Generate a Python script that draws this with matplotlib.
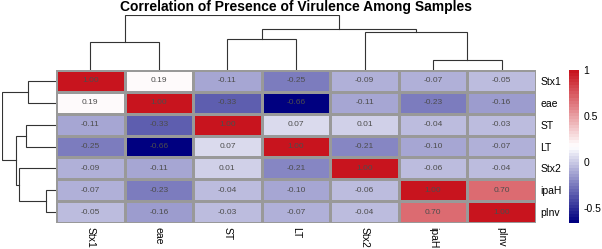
import numpy as np
import matplotlib
matplotlib.use('Agg')
import matplotlib.pyplot as plt
from matplotlib.colors import LinearSegmentedColormap, ListedColormap, Normalize
import matplotlib.cm as cm

plt.rcParams['font.family'] = ['Liberation Sans', 'DejaVu Sans']

genes = ['Stx1', 'eae', 'ST', 'LT', 'Stx2', 'ipaH', 'pInv']
corr = [
    [1.00, 0.19, -0.11, -0.25, -0.09, -0.07, -0.05],
    [0.19, 1.00, -0.33, -0.66, -0.11, -0.23, -0.16],
    [-0.11, -0.33, 1.00, 0.07, 0.01, -0.04, -0.03],
    [-0.25, -0.66, 0.07, 1.00, -0.21, -0.10, -0.07],
    [-0.09, -0.11, 0.01, -0.21, 1.00, -0.06, -0.04],
    [-0.07, -0.23, -0.04, -0.10, -0.06, 1.00, 0.70],
    [-0.05, -0.16, -0.03, -0.07, -0.04, 0.70, 1.00],
]
# merges: (left, right, height); ints refer to earlier merges
merges = [
    ('ipaH', 'pInv', 0.18),
    ('Stx1', 'eae', 0.51),
    ('ST', 'LT', 0.56),
    ('Stx2', 0, 0.69),
    (2, 3, 0.745),
    (1, 4, 1.0),
]
cbar_ticks = [-0.5, 0, 0.5, 1]
cbar_labels = ['-0.5', '0', '0.5', '1']

data = np.array(corr)
n = len(genes)

base = LinearSegmentedColormap.from_list('nwr', ['#000080', '#FFFFFF', '#C8141E'])
cmap = ListedColormap(base(np.linspace(0, 1, 50)))
norm = Normalize(vmin=data.min(), vmax=data.max())

W, H = 602, 249
fig = plt.figure(figsize=(W / 100, H / 100), dpi=100)

def box(x0, y0, x1, y1):
    return [x0 / W, 1 - y1 / H, (x1 - x0) / W, (y1 - y0) / H]

ax = fig.add_axes(box(56, 70, 536, 223))
ax.pcolormesh(data, cmap=cmap, norm=norm, edgecolors='#999999', linewidth=0.8)
ax.set_xlim(0, n)
ax.set_ylim(n, 0)
for i in range(n):
    for j in range(n):
        ax.text(j + 0.5, i + 0.5, '%.2f' % data[i, j], ha='center', va='center',
                fontsize=6, color='#4D4D4D')
ax.set_xticks(np.arange(n) + 0.5)
ax.set_xticklabels(genes, rotation=-90, fontsize=7.5)
ax.set_yticks(np.arange(n) + 0.5)
ax.set_yticklabels(genes, fontsize=7.5)
ax.yaxis.tick_right()
ax.tick_params(length=0, pad=3)
for s in ax.spines.values():
    s.set_visible(False)

# dendrogram positions
pos = {g: i + 0.5 for i, g in enumerate(genes)}
hgt = {g: 0.0 for g in genes}
segs = []
for k, (a, b, h) in enumerate(merges):
    pa, pb = pos[a], pos[b]
    segs.append((pa, pb, hgt[a], hgt[b], h))
    pos[k] = (pa + pb) / 2
    hgt[k] = h

lc = '#333333'
axc = fig.add_axes(box(56, 15, 536, 70))
for pa, pb, ha_, hb, h in segs:
    axc.plot([pa, pa, pb, pb], [ha_, h, h, hb], color=lc, lw=0.8, solid_joinstyle='miter')
axc.set_xlim(0, n)
axc.set_ylim(0, 1.0)
axc.axis('off')

axr = fig.add_axes(box(2, 70, 56, 223))
for pa, pb, ha_, hb, h in segs:
    axr.plot([ha_, h, h, hb], [pa, pa, pb, pb], color=lc, lw=0.8, solid_joinstyle='miter')
axr.set_ylim(n, 0)
axr.set_xlim(1.0, 0)
axr.axis('off')

cax = fig.add_axes(box(569, 70, 579, 223))
cb = fig.colorbar(cm.ScalarMappable(norm=norm, cmap=cmap), cax=cax)
cb.outline.set_visible(False)
cb.set_ticks(cbar_ticks)
cb.set_ticklabels(cbar_labels)
cax.tick_params(length=0, labelsize=7.5, pad=3)

fig.text(296 / W, 1 - 7 / H, 'Correlation of Presence of Virulence Among Samples',
         ha='center', va='center', fontsize=10, fontweight='bold')

fig.savefig('out.png', dpi=100)
